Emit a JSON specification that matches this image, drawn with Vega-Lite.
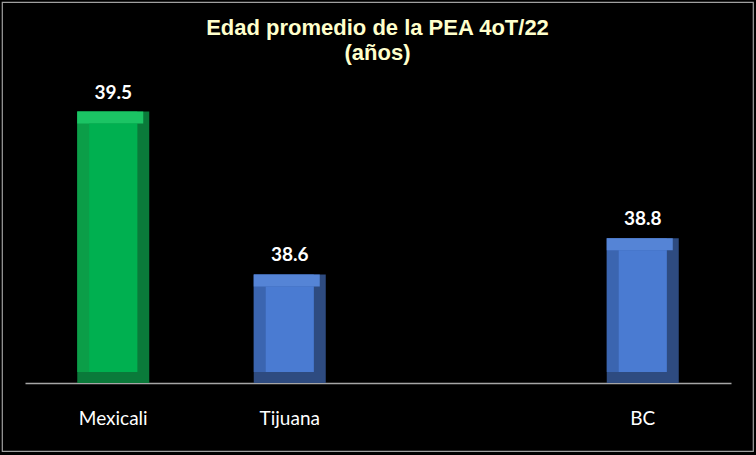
{
  "$schema": "https://vega.github.io/schema/vega-lite/v6.json",
  "autosize": {"type": "none"},
  "width": 751,
  "height": 449,
  "padding": {"left": 2, "top": 2, "right": 3, "bottom": 4},
  "background": "#000000",
  "title": {
    "text": ["Edad promedio de la PEA 4oT/22", "(años)"],
    "font": "Liberation Sans",
    "fontSize": 22,
    "fontWeight": "bold",
    "color": "#FFFFCC",
    "anchor": "middle",
    "frame": "group",
    "lineHeight": 25,
    "offset": -63
  },
  "data": {
    "values": [
      {"region": "Mexicali", "value": 39.5},
      {"region": "Tijuana", "value": 38.6},
      {"region": "BC", "value": 38.8}
    ]
  },
  "encoding": {
    "x": {
      "field": "region",
      "type": "nominal",
      "sort": null,
      "scale": {
        "domain": ["Mexicali", "Tijuana", " ", "BC"],
        "range": [23, 729],
        "paddingInner": 0.59,
        "paddingOuter": 0.295
      },
      "axis": {
        "title": null,
        "labelAngle": 0,
        "ticks": false,
        "tickSize": 0,
        "offset": -68,
        "labelPadding": 41,
        "labelBaseline": "alphabetic",
        "labelFont": "Lato",
        "labelFontSize": 19,
        "labelColor": "#FFFFFF",
        "domainColor": "#A6A6A6",
        "domainWidth": 1.5,
        "grid": false
      }
    },
    "y": {
      "field": "value",
      "type": "quantitative",
      "scale": {"domain": [38, 40], "range": [381, 19], "zero": false},
      "axis": null
    }
  },
  "layer": [
    {
      "mark": {"type": "bar", "width": 72},
      "encoding": {
        "y2": {"datum": 38},
        "color": {
          "condition": {"test": "datum.region === 'Mexicali'", "value": "#0A7A3A"},
          "value": "#2E4B80"
        }
      }
    },
    {
      "mark": {"type": "bar", "width": 60, "xOffset": -6, "y2Offset": -11},
      "encoding": {
        "y2": {"datum": 38},
        "color": {
          "condition": {"test": "datum.region === 'Mexicali'", "value": "#0B9E48"},
          "value": "#3B65B0"
        }
      }
    },
    {
      "mark": {"type": "bar", "width": 66, "xOffset": -3, "y2Offset": 12},
      "encoding": {
        "y2": {"field": "value"},
        "color": {
          "condition": {"test": "datum.region === 'Mexicali'", "value": "#1BC464"},
          "value": "#5584D6"
        }
      }
    },
    {
      "mark": {"type": "bar", "width": 48, "yOffset": 12, "y2Offset": -11},
      "encoding": {
        "y2": {"datum": 38},
        "color": {
          "condition": {"test": "datum.region === 'Mexicali'", "value": "#00B050"},
          "value": "#4A7BD2"
        }
      }
    },
    {
      "mark": {
        "type": "text",
        "font": "Lato",
        "fontSize": 19,
        "fontWeight": "bold",
        "color": "#FFFFFF",
        "baseline": "alphabetic",
        "yOffset": -13
      },
      "encoding": {
        "text": {"field": "value", "type": "quantitative", "format": ".1f"}
      }
    }
  ],
  "config": {
    "view": {"stroke": "#A0A0A0", "strokeWidth": 1.2}
  }
}
